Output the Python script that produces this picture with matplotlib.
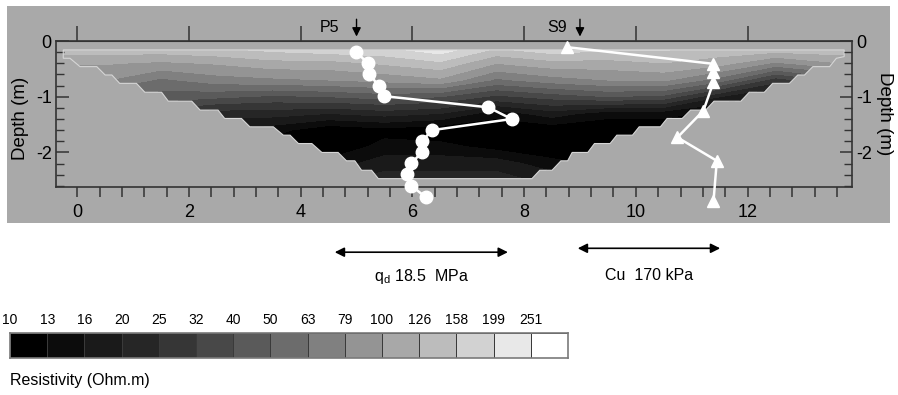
import matplotlib
matplotlib.use("Agg")
import matplotlib.pyplot as plt
import numpy as np
from matplotlib.colors import ListedColormap
from matplotlib.patches import Polygon, Rectangle
from matplotlib.ticker import MultipleLocator, NullLocator

plt.rcParams["font.family"] = ["Liberation Sans", "DejaVu Sans"]
plt.rcParams["axes.unicode_minus"] = False

# resistivity classes (Ohm.m): lower bound of each box and its grey
class_bounds = [10, 13, 16, 20, 25, 32, 40, 50, 63, 79, 100, 126, 158, 199, 251]
class_grays = ["#000000", "#0c0c0c", "#1a1a1a", "#262626", "#363636", "#484848", "#5a5a5a",
               "#6c6c6c", "#808080", "#949494", "#a8a8a8", "#bcbcbc", "#d2d2d2", "#e8e8e8",
               "#ffffff"]

# inverted resistivity section on a coarse grid (Ohm.m)
grid_x = [-0.25, 0.5, 1.5, 2.5, 3.5, 4.5, 5.5, 6.5, 7.5, 8.5, 9.5, 10.5, 11.5, 12.5, 13.75]
grid_depth = [-0.16, -0.4, -0.7, -1.0, -1.3, -1.6, -1.9, -2.2, -2.47]
rho = [
    [141, 141, 141, 150, 165, 178, 185, 224, 150, 178, 160, 160, 145, 141, 145],
    [102, 102, 95, 102, 115, 115, 130, 150, 100, 115, 115, 125, 110, 75, 100],
    [80, 80, 60, 71, 75, 79, 85, 95, 60, 71, 79, 82, 56, 28, 45],
    [50, 50, 45, 42, 38, 40, 44, 40, 30, 35, 40, 37, 20, 14, 16],
    [35, 35, 28, 22, 22, 20, 22, 20, 14, 18, 14, 14, 12, 11, 11],
    [22, 22, 18, 16, 14, 11, 12, 11, 11, 11, 11, 11, 11, 11, 11],
    [18, 18, 14, 12, 12, 11, 14, 14, 12, 11, 11, 11, 11, 11, 11],
    [18, 18, 14, 14, 14, 14, 18, 18, 18, 14, 12, 11, 11, 11, 11],
    [22, 22, 18, 18, 18, 18, 22, 22, 22, 18, 14, 11, 11, 11, 11],
]

# limits of the inverted model, left flank (top -> bottom) and right flank (top -> bottom)
left_x = [-0.25, -0.25, -0.13, 0.05, 0.35, 0.50, 0.62, 0.76, 1.06, 1.21, 1.51, 1.63, 2.05,
          2.20, 2.52, 2.64, 2.94, 3.09, 3.51, 3.69, 3.81, 3.96, 4.20, 4.38, 4.67, 4.82,
          4.97, 5.09, 5.27, 5.39]
left_d = [-0.16, -0.31, -0.31, -0.46, -0.46, -0.61, -0.61, -0.76, -0.76, -0.92, -0.92,
          -1.08, -1.08, -1.24, -1.24, -1.39, -1.39, -1.54, -1.54, -1.69, -1.69, -1.84,
          -1.84, -2.00, -2.00, -2.15, -2.15, -2.32, -2.32, -2.47]
right_x = [13.73, 13.73, 13.59, 13.47, 13.17, 13.02, 12.90, 12.75, 12.45, 12.30, 12.03,
           11.88, 11.40, 11.25, 10.98, 10.83, 10.56, 10.44, 10.06, 9.94, 9.66, 9.54, 9.26,
           9.14, 8.86, 8.78, 8.66, 8.50, 8.28, 8.14]
right_d = [-0.16, -0.28, -0.31, -0.46, -0.46, -0.61, -0.61, -0.76, -0.76, -0.92, -0.92,
           -1.08, -1.08, -1.24, -1.24, -1.39, -1.39, -1.54, -1.54, -1.69, -1.69, -1.84,
           -1.84, -2.00, -2.00, -2.15, -2.15, -2.32, -2.32, -2.47]

# P5 dynamic penetrometer: cone resistance qd (MPa)
p5_depth = [-0.19, -0.40, -0.60, -0.80, -0.99, -1.19, -1.40, -1.60, -1.80, -2.00, -2.19,
            -2.39, -2.60, -2.80]
p5_qd = [2.3, 3.5, 3.7, 4.7, 5.3, 16.4, 18.9, 10.4, 9.3, 9.3, 8.2, 7.7, 8.2, 9.7]

# S9 vane test: undrained shear strength Cu (kPa)
s9_depth = [-0.11, -0.41, -0.56, -0.74, -1.25, -1.73, -2.15, -2.88]
s9_cu = [1, 176, 176, 176, 164, 133, 180, 176]

qd_scale = 18.5   # MPa shown by the scale arrow
cu_scale = 170    # kPa shown by the scale arrow
qd_len = 3.10     # metres of section used for qd_scale
cu_len = 2.55     # metres of section used for cu_scale
qd_x0 = 4.61
cu_x0 = 8.75
p5_pos = 5.0
s9_pos = 9.0

bg = "#a9a9a9"
fig = plt.figure(figsize=(8.98, 3.95), dpi=100)
fig.patches.append(Rectangle((7 / 898, 1 - 223 / 395), 883 / 898, 217 / 395,
                             transform=fig.transFigure, facecolor=bg, edgecolor="none",
                             zorder=-5))

ax = fig.add_axes([56 / 898, 1 - 187 / 395, 796 / 898, 146 / 395])
ax.set_facecolor(bg)
ax.set_xlim(-0.38, 13.87)
ax.set_ylim(-2.62, 0)

# resistivity contours clipped to the model outline
X, D = np.meshgrid(grid_x, grid_depth)
levels = np.log10([1] + class_bounds[1:] + [1e4])
cs = ax.contourf(X, D, np.log10(np.array(rho, dtype=float)), levels=levels,
                 colors=class_grays, zorder=1)
outline = np.column_stack([right_x + left_x[::-1], right_d + left_d[::-1]])
section = Polygon(outline, closed=True, facecolor="none", edgecolor="#d6d6d6", lw=0.8,
                  zorder=2)
ax.add_patch(section)
cs.set_clip_path(section)

# penetrometer and vane profiles
p5_x = qd_x0 + np.array(p5_qd) * qd_len / qd_scale
s9_x = cu_x0 + np.array(s9_cu) * cu_len / cu_scale
ax.plot(p5_x, p5_depth, color="white", lw=1.8, marker="o", ms=9, clip_on=False, zorder=5)
ax.plot(s9_x, s9_depth, color="white", lw=1.8, marker="^", ms=9, clip_on=False, zorder=5)

# test locations
for name, pos, tx in [("P5", p5_pos, 4.52), ("S9", s9_pos, 8.59)]:
    ax.annotate("", xy=(pos, 0.03), xytext=(pos, 0.44),
                arrowprops=dict(arrowstyle="-|>", color="black", lw=1.0, mutation_scale=13),
                annotation_clip=False)
    ax.text(tx, 0.25, name, ha="center", va="center", fontsize=11.5, clip_on=False)

# scale arrows under the section
ax.annotate("", xy=(qd_x0 + qd_len, -3.79), xytext=(qd_x0, -3.79),
            arrowprops=dict(arrowstyle="<|-|>", color="black", lw=1.2, mutation_scale=14,
                            shrinkA=0, shrinkB=0), annotation_clip=False)
ax.text(qd_x0 + qd_len / 2, -4.22, "q$_\\mathregular{d}$ " + f"{qd_scale}  MPa",
        ha="center", va="center", fontsize=11.5, clip_on=False)
cu_arrow_start = 8.96
ax.annotate("", xy=(cu_arrow_start + cu_len, -3.72), xytext=(cu_arrow_start, -3.72),
            arrowprops=dict(arrowstyle="<|-|>", color="black", lw=1.2, mutation_scale=14,
                            shrinkA=0, shrinkB=0), annotation_clip=False)
ax.text(cu_arrow_start + cu_len / 2, -4.2, f"Cu  {cu_scale} kPa", ha="center",
        va="center", fontsize=11.5, clip_on=False)

# axes decoration
for sp in ax.spines.values():
    sp.set_color("#333333")
    sp.set_linewidth(1.2)
ax.set_xticks(range(0, 14, 2))
ax.xaxis.set_minor_locator(MultipleLocator(0.4))
ax.tick_params(axis="x", which="both", direction="out", length=7, width=1.1,
               color="#333333", labelsize=13, pad=5)
ax.set_yticks([0, -1, -2])
ax.set_yticklabels(["0", "-1", "-2"])
ax.yaxis.set_minor_locator(MultipleLocator(0.2))
ax.tick_params(axis="y", which="major", direction="in", length=9, width=1.1,
               color="#333333", labelsize=13, pad=3)
ax.tick_params(axis="y", which="minor", direction="in", length=6, width=1.0,
               color="#333333")
ax.set_ylabel("Depth (m)", fontsize=13.5)
ax.yaxis.set_label_coords(-0.034, 0.47)

top = ax.secondary_xaxis("top")
top.set_xticks(range(0, 14, 2))
top.xaxis.set_minor_locator(NullLocator())
top.tick_params(direction="out", length=11, width=1.1, color="#333333", labeltop=False)
top.spines["top"].set_color("#333333")

ax_r = ax.twinx()
ax_r.set_ylim(ax.get_ylim())
ax_r.set_yticks([0, -1, -2])
ax_r.set_yticklabels(["0", "-1", "-2"])
ax_r.yaxis.set_minor_locator(MultipleLocator(0.2))
ax_r.tick_params(axis="y", which="major", direction="in", length=9, width=1.1,
                 color="#333333", labelsize=13, pad=3)
ax_r.tick_params(axis="y", which="minor", direction="in", length=6, width=1.0,
                 color="#333333")
ax_r.set_ylabel("Depth (m)", fontsize=13.5, rotation=-90, va="bottom", labelpad=3)
for sp in ax_r.spines.values():
    sp.set_visible(False)

# colour scale
cax = fig.add_axes([10 / 898, 1 - 358 / 395, 558 / 898, 25 / 395])
cax.pcolormesh(np.arange(16), [0, 1], np.arange(15).reshape(1, 15),
               cmap=ListedColormap(class_grays), vmin=-0.5, vmax=14.5,
               edgecolors="#3a3a3a", linewidth=0.6)
cax.set_xlim(0, 15)
cax.set_ylim(0, 1)
cax.set_xticks([])
cax.set_yticks([])
for sp in cax.spines.values():
    sp.set_color("#7a7a7a")
    sp.set_linewidth(1.2)
for i, b in enumerate(class_bounds):
    cax.annotate(str(b), xy=(i, 1), xytext=(0, 4), textcoords="offset points",
                 ha="center", va="bottom", fontsize=10, annotation_clip=False)
fig.text(10 / 898, 1 - 381 / 395, "Resistivity (Ohm.m)", ha="left", va="center",
         fontsize=11.5)

fig.savefig("out.png", dpi=100)
